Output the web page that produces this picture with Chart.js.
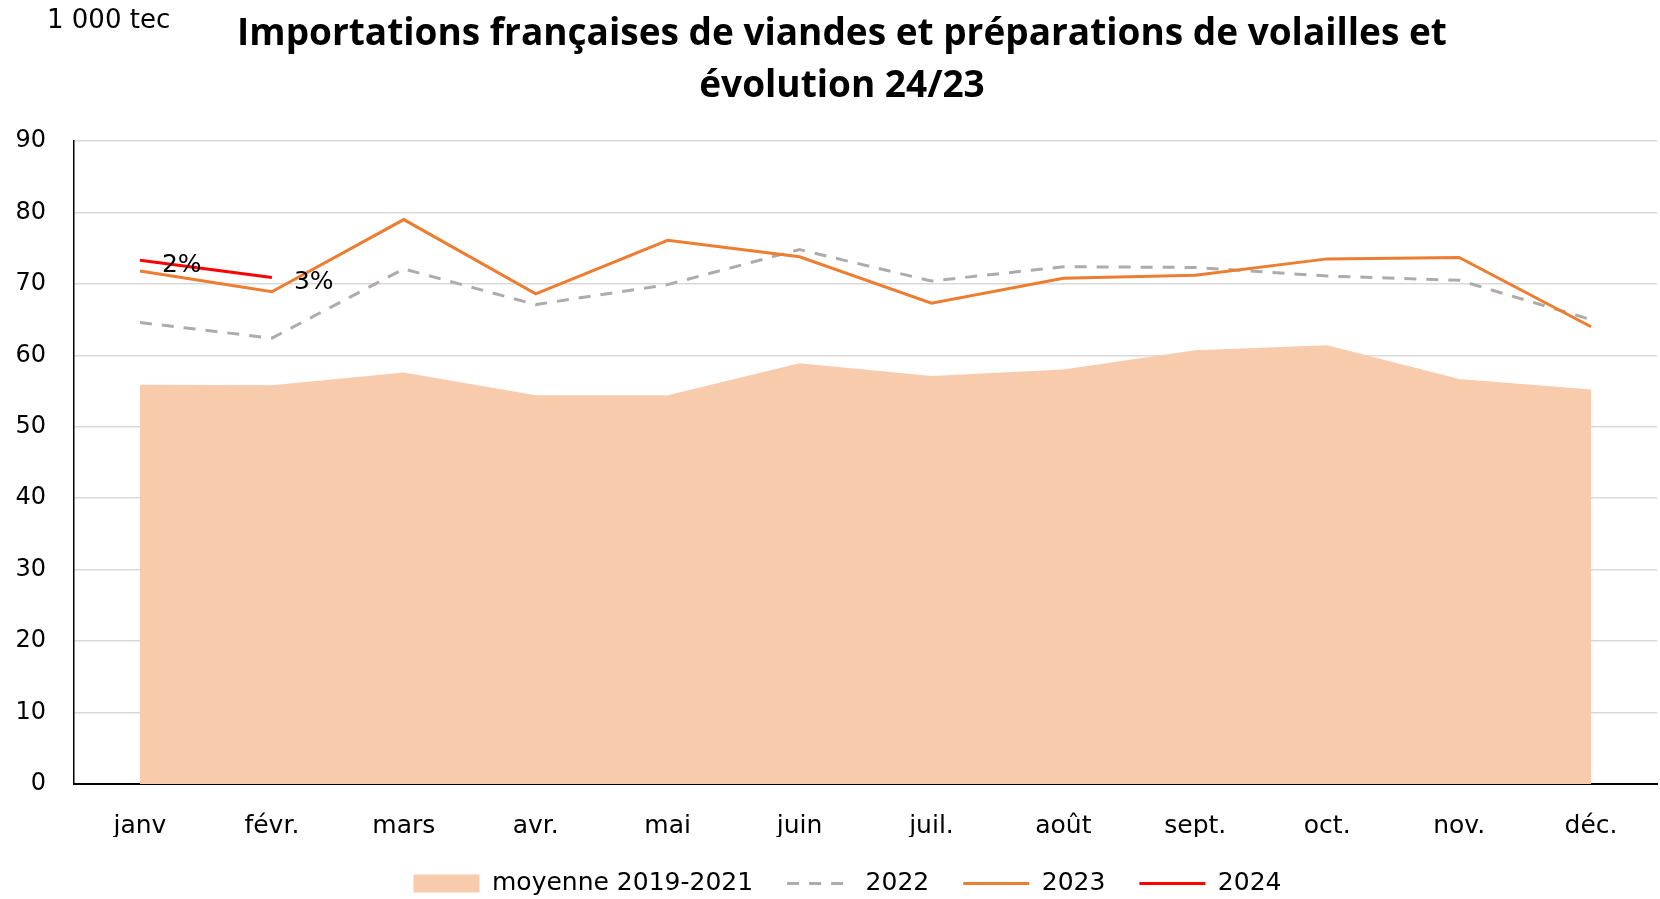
<!DOCTYPE html>
<html>
<head>
<meta charset="utf-8">
<script src="https://cdn.jsdelivr.net/npm/chart.js@4"></script>
<style>
  html, body { margin: 0; padding: 0; background: #ffffff; }
  #wrap { width: 1660px; height: 899px; position: relative; }
</style>
</head>
<body>
<div id="wrap"><canvas id="c" width="1660" height="899"></canvas></div>
<script>
// ---- Data ----
const months = ['janv', 'févr.', 'mars', 'avr.', 'mai', 'juin', 'juil.', 'août', 'sept.', 'oct.', 'nov.', 'déc.'];
const moyenne20192021 = [55.9, 55.8, 57.6, 54.4, 54.4, 58.9, 57.1, 58.0, 60.7, 61.4, 56.7, 55.2];
const serie2022 = [64.6, 62.4, 72.1, 67.1, 69.9, 74.8, 70.4, 72.4, 72.3, 71.1, 70.5, 65.0];
const serie2023 = [71.8, 68.9, 79.0, 68.6, 76.1, 73.8, 67.3, 70.8, 71.2, 73.5, 73.7, 64.0];
const serie2024 = [73.3, 70.9];
const evolution2024 = ['2%', '3%'];
const yTicks = [0, 10, 20, 30, 40, 50, 60, 70, 80, 90];
const titleLines = ['Importations françaises de viandes et préparations de volailles et', 'évolution 24/23'];
const unitLabel = '1 000 tec';
const legendNames = ['moyenne 2019-2021', '2022', '2023', '2024'];

const FONT = "'DejaVu Sans', sans-serif";
const TITLE_FONT = "'Open Sans', 'DejaVu Sans', sans-serif";

const textPlugin = {
  id: 'textPlugin',
  afterLayout(chart) {
    // centre the legend row like the original (slightly right of the canvas centre)
    if (chart.legend) {
      chart.legend.left += 19;
      chart.legend.right += 19;
    }
  },
  afterDatasetsDraw(chart) {
    const ctx = chart.ctx;
    const meta = chart.getDatasetMeta(3);
    ctx.save();
    ctx.fillStyle = '#000000';
    ctx.font = '25px ' + FONT;
    ctx.textAlign = 'left';
    ctx.textBaseline = 'middle';
    meta.data.forEach((pt, i) => {
      if (evolution2024[i] !== undefined) {
        ctx.fillText(evolution2024[i], pt.x + 22, pt.y + 5);
      }
    });
    ctx.restore();
  },
  afterDraw(chart) {
    const ctx = chart.ctx;
    ctx.save();
    ctx.fillStyle = '#000000';
    ctx.textBaseline = 'alphabetic';
    ctx.font = 'bold 37px ' + TITLE_FONT;
    ctx.textAlign = 'center';
    ctx.fillText(titleLines[0], 842, 45);
    ctx.fillText(titleLines[1], 842, 97);
    ctx.font = '26px ' + FONT;
    ctx.textAlign = 'left';
    ctx.fillText(unitLabel, 47, 28);
    ctx.restore();
  }
};

new Chart(document.getElementById('c'), {
  type: 'line',
  data: {
    labels: months,
    datasets: [
      {
        label: legendNames[0],
        data: moyenne20192021,
        fill: 'origin',
        backgroundColor: '#f8cbad',
        borderColor: '#f8cbad',
        borderWidth: 0,
        pointRadius: 0,
        pointStyle: 'rect',
        tension: 0,
        order: 4
      },
      {
        label: legendNames[1],
        data: serie2022,
        fill: false,
        borderColor: '#afabab',
        backgroundColor: '#afabab',
        borderWidth: 3,
        borderDash: [12, 10],
        pointRadius: 0,
        pointStyle: 'line',
        tension: 0,
        order: 3
      },
      {
        label: legendNames[2],
        data: serie2023,
        fill: false,
        borderColor: '#ed7d31',
        backgroundColor: '#ed7d31',
        borderWidth: 3,
        pointRadius: 0,
        pointStyle: 'line',
        tension: 0,
        order: 2
      },
      {
        label: legendNames[3],
        data: serie2024,
        fill: false,
        borderColor: '#ff0000',
        backgroundColor: '#ff0000',
        borderWidth: 3,
        pointRadius: 0,
        pointStyle: 'line',
        tension: 0,
        order: 1
      }
    ]
  },
  options: {
    responsive: false,
    animation: false,
    devicePixelRatio: 1,
    layout: { padding: { top: 141, left: 0, right: 3, bottom: 0 } },
    plugins: {
      title: { display: false },
      tooltip: { enabled: false },
      legend: {
        display: true,
        position: 'bottom',
        align: 'center',
        maxHeight: 62,
        labels: {
          usePointStyle: true,
          pointStyleWidth: 66,
          boxHeight: 18,
          padding: 34,
          color: '#000000',
          font: { family: FONT, size: 25 },
          sort: (a, b) => a.datasetIndex - b.datasetIndex,
          generateLabels(chart) {
            const items = Chart.defaults.plugins.legend.labels.generateLabels(chart);
            items.forEach(it => {
              const ds = chart.data.datasets[it.datasetIndex];
              it.lineWidth = ds.borderWidth;
              it.lineDash = ds.borderDash || [];
              it.strokeStyle = ds.borderColor;
              it.fillStyle = ds.backgroundColor;
              it.lineCap = 'butt';
            });
            return items;
          }
        }
      }
    },
    scales: {
      x: {
        offset: true,
        grid: { display: false, drawTicks: false },
        border: { display: true, color: '#000000', width: 2 },
        ticks: {
          color: '#000000',
          padding: 27,
          maxRotation: 0,
          autoSkip: false,
          font: { family: FONT, size: 25 }
        },
        afterFit(scale) { scale.height = 53; }
      },
      y: {
        min: 0,
        max: 90,
        afterBuildTicks(scale) { scale.ticks = yTicks.map(v => ({ value: v })); },
        grid: { color: '#d9d9d9', lineWidth: 1.5, drawTicks: false },
        border: { display: true, color: '#000000', width: 1.5 },
        ticks: {
          color: '#000000',
          padding: 28,
          font: { family: FONT, size: 24 }
        },
        afterFit(scale) { scale.width = 74; }
      }
    }
  },
  plugins: [textPlugin]
});
</script>
</body>
</html>
